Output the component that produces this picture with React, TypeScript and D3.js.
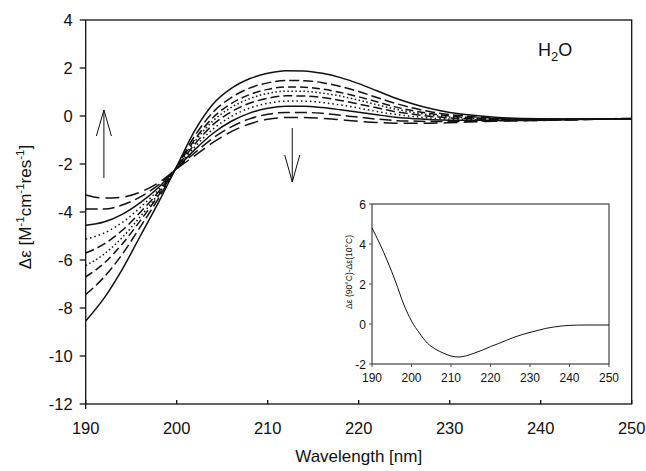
import React from 'react';
import * as d3 from 'd3';

// Main chart data (wavelength in nm, Δε in M^-1 cm^-1 res^-1)
const wavelengths = [190, 192, 194, 196, 198, 200, 202, 204, 206, 208, 210, 212, 214, 216, 218, 220, 222, 224, 226, 228, 230, 232, 235, 238, 242, 246, 250];

const curveA = [-8.54, -7.6, -6.4, -5.0, -3.6, -2.1, -0.6, 0.5, 1.15, 1.55, 1.78, 1.89, 1.88, 1.78, 1.6, 1.35, 1.05, 0.75, 0.5, 0.3, 0.15, 0.05, -0.05, -0.1, -0.12, -0.12, -0.1];
const curveB = [-7.44, -6.72, -5.77, -4.62, -3.43, -2.12, -0.82, 0.16, 0.77, 1.16, 1.38, 1.48, 1.47, 1.39, 1.23, 1.02, 0.77, 0.53, 0.33, 0.17, 0.06, -0.01, -0.09, -0.12, -0.13, -0.12, -0.1];
const curveC = [-6.7, -6.14, -5.34, -4.36, -3.31, -2.14, -0.97, -0.06, 0.52, 0.89, 1.11, 1.21, 1.2, 1.12, 0.98, 0.8, 0.59, 0.38, 0.22, 0.09, 0.0, -0.06, -0.11, -0.14, -0.14, -0.13, -0.11];
const curveD = [-6.23, -5.76, -5.07, -4.19, -3.24, -2.14, -1.06, -0.2, 0.36, 0.72, 0.94, 1.03, 1.03, 0.95, 0.83, 0.66, 0.47, 0.29, 0.15, 0.04, -0.04, -0.08, -0.13, -0.14, -0.14, -0.13, -0.11];
const curveE = [-5.71, -5.34, -4.77, -4.01, -3.16, -2.15, -1.17, -0.36, 0.18, 0.53, 0.74, 0.84, 0.83, 0.77, 0.65, 0.5, 0.34, 0.18, 0.07, -0.02, -0.08, -0.11, -0.14, -0.15, -0.15, -0.13, -0.11];
const curveF = [-5.13, -4.88, -4.44, -3.81, -3.07, -2.17, -1.28, -0.54, -0.02, 0.33, 0.53, 0.62, 0.62, 0.56, 0.46, 0.33, 0.19, 0.07, -0.02, -0.09, -0.13, -0.15, -0.16, -0.17, -0.15, -0.13, -0.11];
const curveG = [-4.55, -4.42, -4.1, -3.61, -2.98, -2.18, -1.4, -0.72, -0.22, 0.12, 0.32, 0.41, 0.41, 0.35, 0.26, 0.16, 0.05, -0.05, -0.11, -0.16, -0.18, -0.18, -0.18, -0.18, -0.16, -0.14, -0.12];
const curveH = [-3.87, -3.88, -3.71, -3.37, -2.87, -2.19, -1.53, -0.92, -0.45, -0.12, 0.07, 0.15, 0.15, 0.11, 0.03, -0.05, -0.13, -0.19, -0.21, -0.23, -0.23, -0.22, -0.2, -0.19, -0.17, -0.14, -0.12];
const curveI = [-3.29, -3.42, -3.38, -3.17, -2.78, -2.2, -1.65, -1.1, -0.65, -0.33, -0.14, -0.06, -0.06, -0.1, -0.16, -0.22, -0.27, -0.3, -0.3, -0.3, -0.28, -0.25, -0.22, -0.2, -0.17, -0.14, -0.12];

const seriesList = [curveA, curveB, curveC, curveD, curveE, curveF, curveG, curveH, curveI];
const seriesDash = ['', '10,4', '8,4', '1.5,2.5', '9,4', '1.5,3', '', '12,5', '14,6'];

const xTicks = [190, 200, 210, 220, 230, 240, 250];
const yTicks = [4, 2, 0, -2, -4, -6, -8, -10, -12];

// Inset data: Δε(90°C) − Δε(10°C)
const insetWl = [190, 192, 194, 196, 198, 200, 202, 204, 206, 208, 210, 212, 214, 216, 218, 220, 222, 224, 226, 228, 230, 232, 234, 236, 238, 240, 244, 250];
const insetDiff = [4.8, 4.0, 3.1, 2.1, 1.0, 0.15, -0.45, -0.95, -1.25, -1.45, -1.6, -1.65, -1.58, -1.45, -1.3, -1.13, -0.98, -0.82, -0.66, -0.53, -0.42, -0.32, -0.22, -0.15, -0.1, -0.07, -0.05, -0.05];
const insetXTicks = [190, 200, 210, 220, 230, 240, 250];
const insetYTicks = [-2, 0, 2, 4, 6];

const FONT = '"Liberation Sans", Arial, Helvetica, sans-serif';

export default function App() {
  const W = 646;
  const H = 471;
  const x = d3.scaleLinear().domain([190, 250]).range([85.7, 631.7]);
  const y = d3.scaleLinear().domain([-12, 4]).range([404, 20]);

  const line = d3
    .line<number>()
    .x((_, i) => x(wavelengths[i]))
    .y((d) => y(d))
    .curve(d3.curveMonotoneX);

  const ix = d3.scaleLinear().domain([190, 250]).range([372, 609]);
  const iy = d3.scaleLinear().domain([-2, 6]).range([364, 204]);
  const insetLine = d3
    .line<number>()
    .x((_, i) => ix(insetWl[i]))
    .y((d) => iy(d))
    .curve(d3.curveMonotoneX);

  const [x0, x1] = x.range();
  const [yb, yt] = y.range();

  // arrows (annotation positions in data units)
  const upX = x(192);
  const upY0 = y(-2.58);
  const upY1 = y(0.25);
  const dnX = x(212.7);
  const dnY0 = y(-0.5);
  const dnY1 = y(-2.75);

  return (
    <svg
      width={W}
      height={H}
      style={{ position: 'absolute', left: 0, top: 0, background: '#fff' }}
      fontFamily={FONT}
    >
      <rect x={0} y={0} width={W} height={H} fill="#fff" />
      {/* curves */}
      <g fill="none" stroke="#111" strokeWidth={1.5}>
        {seriesList.map((s, i) => (
          <path key={i} d={line(s) || ''} strokeDasharray={seriesDash[i] || undefined} />
        ))}
      </g>

      {/* frame */}
      <rect x={x0} y={yt} width={x1 - x0} height={yb - yt} fill="none" stroke="#111" strokeWidth={1.3} />

      {/* y ticks */}
      {yTicks.map((t) => (
        <g key={t}>
          <line x1={x0 - 6} x2={x0} y1={y(t)} y2={y(t)} stroke="#111" strokeWidth={1.3} />
          <text x={x0 - 13} y={y(t) + 6} textAnchor="end" fontSize={16.5} fill="#111">
            {t}
          </text>
        </g>
      ))}
      {/* x ticks */}
      {xTicks.map((t) => (
        <g key={t}>
          <line x1={x(t)} x2={x(t)} y1={yb} y2={yb - 4} stroke="#111" strokeWidth={1.3} />
          <text x={x(t)} y={434} textAnchor="middle" fontSize={16.5} fill="#111">
            {t}
          </text>
        </g>
      ))}
      <line x1={x0} x2={x0} y1={yb} y2={yb + 5} stroke="#111" strokeWidth={1.3} />

      {/* axis titles */}
      <text x={(x0 + x1) / 2} y={462} textAnchor="middle" fontSize={17} fill="#111">
        Wavelength [nm]
      </text>
      <text transform={`translate(31,207) rotate(-90)`} textAnchor="middle" fontSize={17} fill="#111">
        Δε [M<tspan dy={-7} fontSize={11.5}>-1</tspan>
        <tspan dy={7}>cm</tspan>
        <tspan dy={-7} fontSize={11.5}>-1</tspan>
        <tspan dy={7}>res</tspan>
        <tspan dy={-7} fontSize={11.5}>-1</tspan>
        <tspan dy={7}>]</tspan>
      </text>

      {/* H2O label */}
      <text x={538} y={56} fontSize={18} fill="#111">
        H<tspan dy={5} fontSize={13}>2</tspan>
        <tspan dy={-5}>O</tspan>
      </text>

      {/* arrows */}
      <g stroke="#111" strokeWidth={1} fill="none">
        <line x1={upX} x2={upX} y1={upY0} y2={upY1} />
        <polyline points={`${upX - 7.5},${upY1 + 26} ${upX},${upY1} ${upX + 7.5},${upY1 + 26}`} />
        <line x1={dnX} x2={dnX} y1={dnY0} y2={dnY1} />
        <polyline points={`${dnX - 7.5},${dnY1 - 27} ${dnX},${dnY1} ${dnX + 7.5},${dnY1 - 27}`} />
      </g>

      {/* inset */}
      <rect x={372} y={204} width={237} height={160} fill="#fff" stroke="#444" strokeWidth={1.2} />
      <path d={insetLine(insetDiff) || ''} fill="none" stroke="#111" strokeWidth={1} />
      {insetXTicks.map((t) => (
        <g key={t}>
          <line x1={ix(t)} x2={ix(t)} y1={364} y2={367} stroke="#444" strokeWidth={1} />
          <text x={ix(t)} y={382} textAnchor="middle" fontSize={12} fill="#111">
            {t}
          </text>
        </g>
      ))}
      {insetYTicks.map((t) => (
        <g key={t}>
          <line x1={369} x2={372} y1={iy(t)} y2={iy(t)} stroke="#444" strokeWidth={1} />
          <text x={366} y={iy(t) + 4.5} textAnchor="end" fontSize={12} fill="#111">
            {t}
          </text>
        </g>
      ))}
      <text
        transform={`translate(352,272) rotate(-90)`}
        textAnchor="middle"
        fontSize={9.5}
        fill="#111"
        textLength={74}
        lengthAdjust="spacingAndGlyphs"
      >
        Δε (90°C)-Δε(10°C)
      </text>
    </svg>
  );
}
